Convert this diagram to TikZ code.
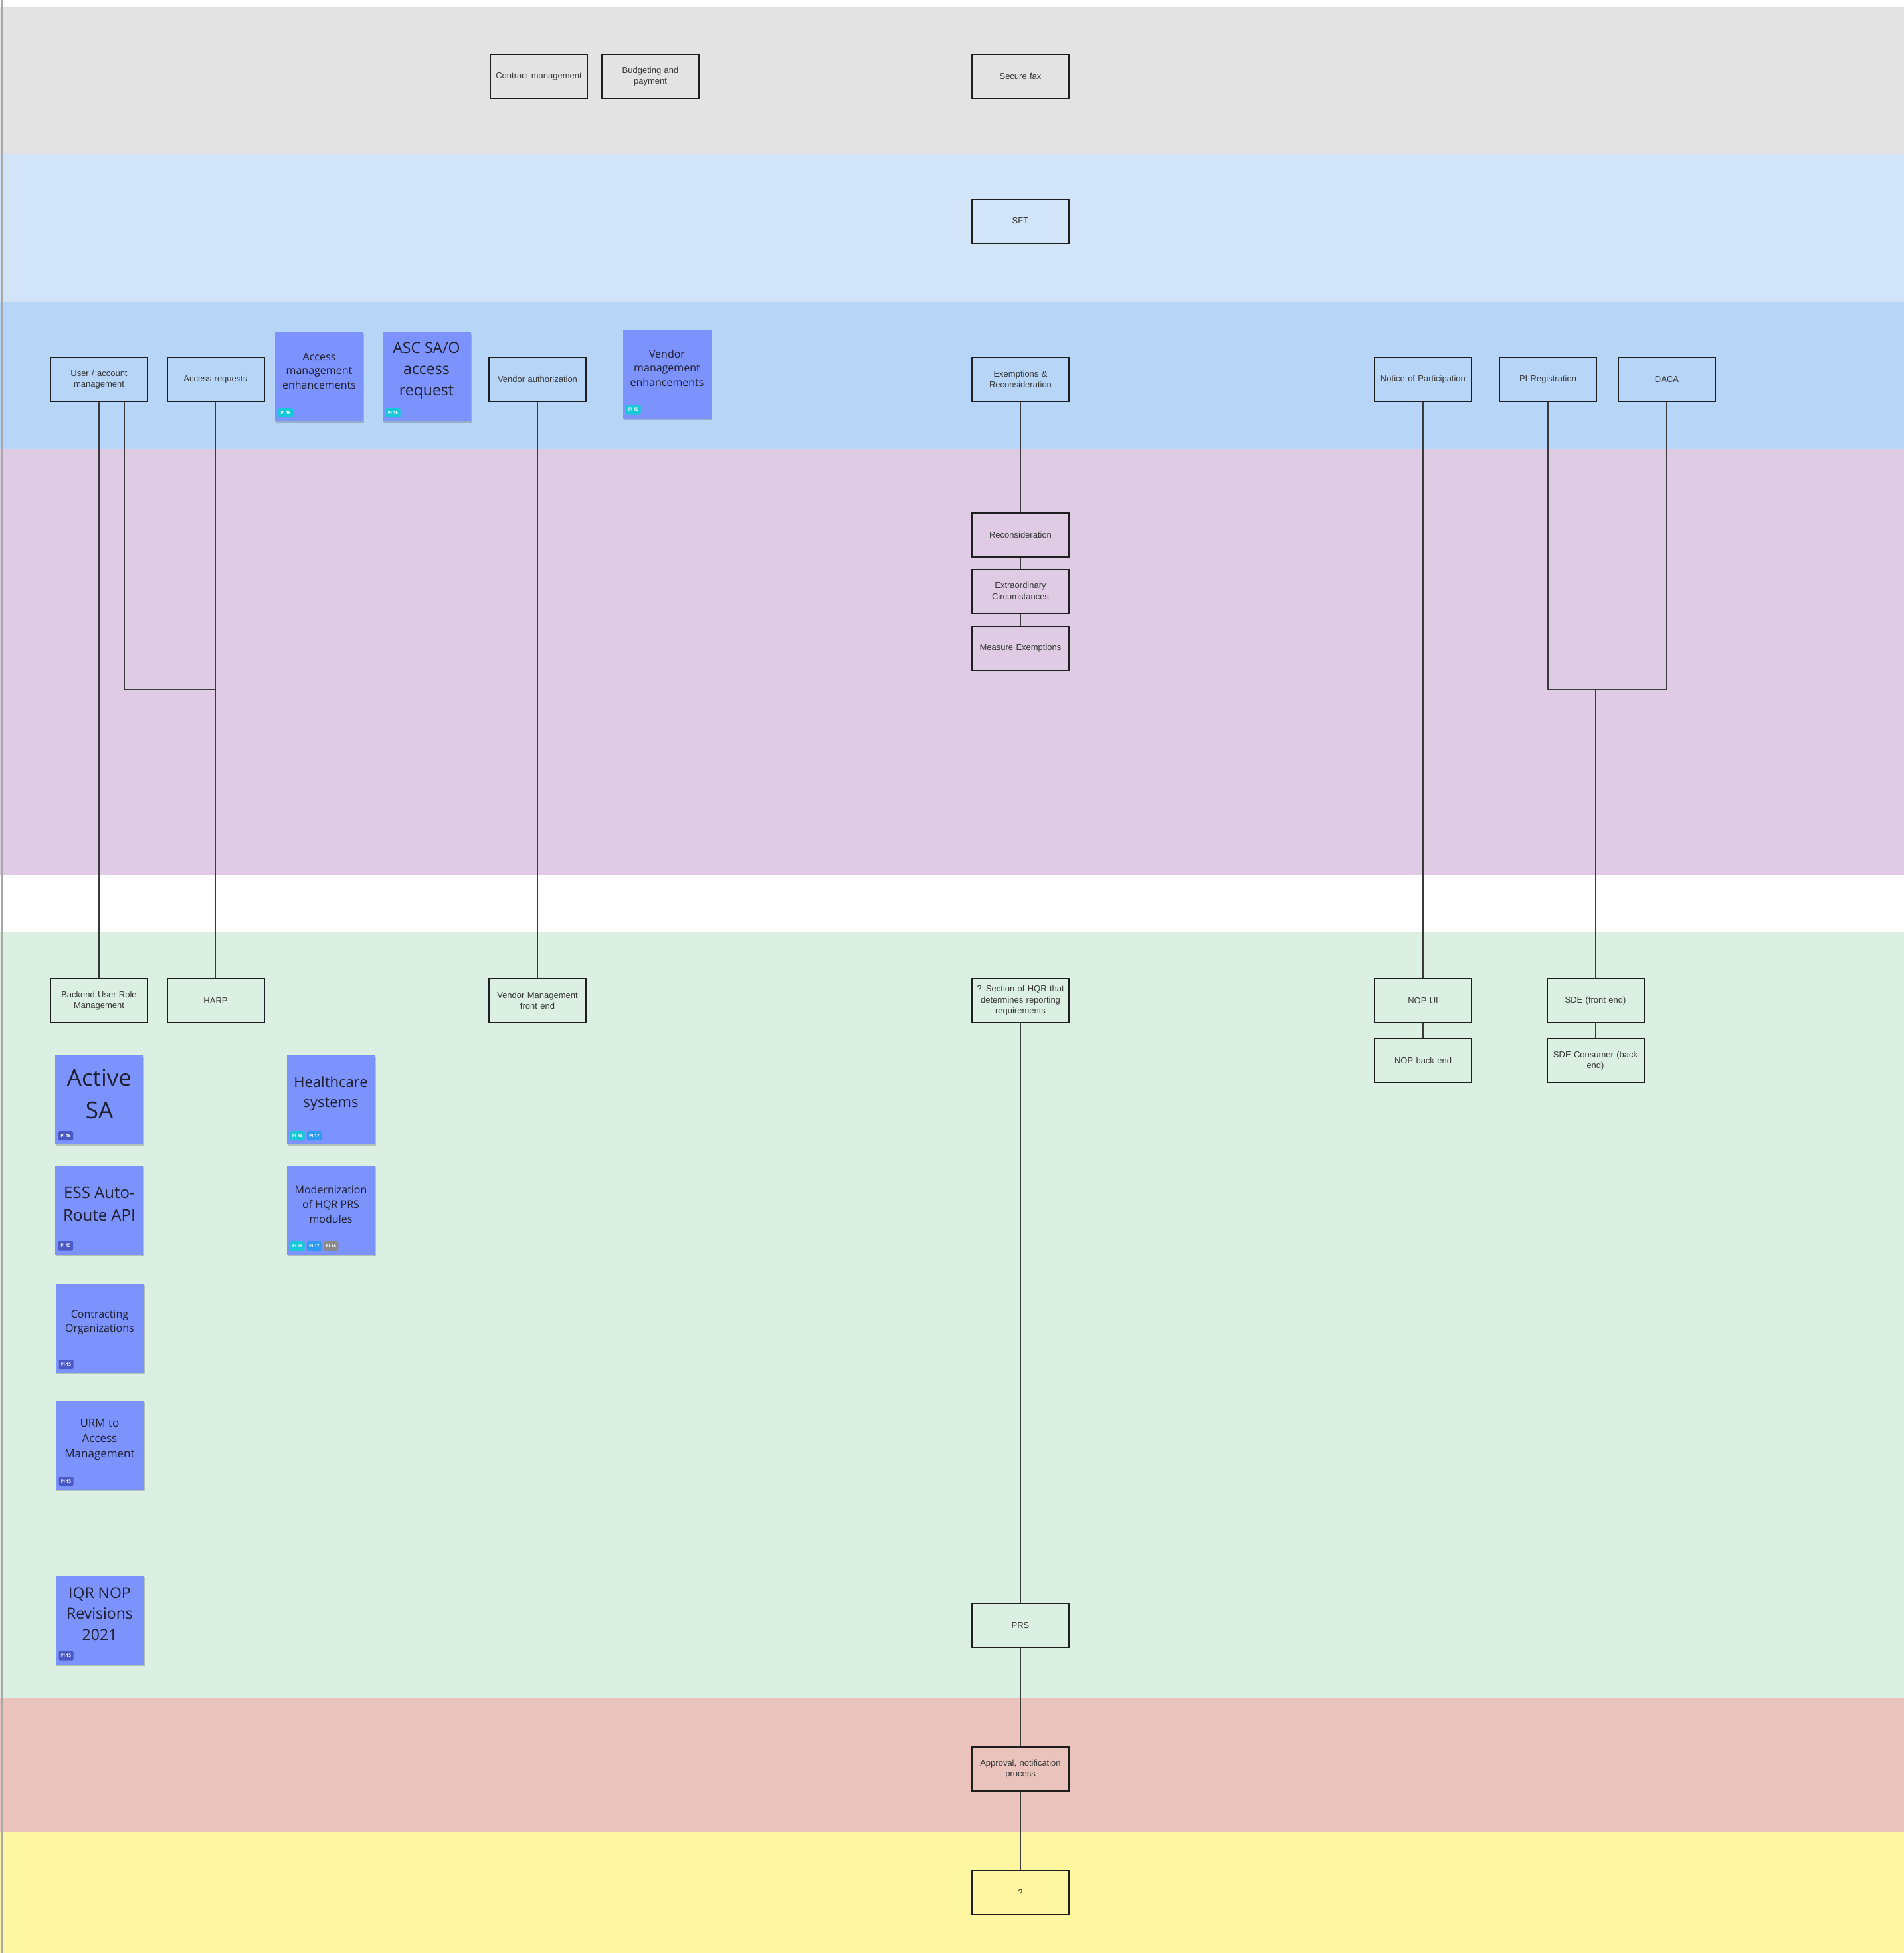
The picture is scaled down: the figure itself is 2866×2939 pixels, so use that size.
\documentclass[tikz,border=0pt]{standalone}
\usepackage{fontspec}
\setmainfont{Liberation Sans}
\newfontfamily\stickyfont{Open Sans}
\usetikzlibrary{shadows}
\definecolor{bandgray}{HTML}{E3E3E3}
\definecolor{bandlblue}{HTML}{D2E4F8}
\definecolor{bandblue}{HTML}{B7D5F6}
\definecolor{bandpurple}{HTML}{DFCBE4}
\definecolor{bandgreen}{HTML}{DBEFE3}
\definecolor{bandred}{HTML}{EAC3BD}
\definecolor{bandyellow}{HTML}{FEF6A1}
\definecolor{boxline}{HTML}{1E1E1E}
\definecolor{boxtext}{HTML}{383838}
\definecolor{linecol}{HTML}{3A3A3A}
\definecolor{stickyblue}{HTML}{7C93FE}
\definecolor{stickytext}{HTML}{1F2030}
\definecolor{piA}{HTML}{4A58C6}
\definecolor{piB}{HTML}{17C9D6}
\definecolor{piC}{HTML}{2F9BF0}
\definecolor{piD}{HTML}{8A8A8A}
\definecolor{edgegray}{HTML}{A8A8A8}
\begin{document}
\begin{tikzpicture}[x=1pt,y=-1pt,
  box/.style={draw=boxline, line width=2pt, minimum width=146pt, minimum height=66pt,
    inner sep=2pt, text width=138pt, align=center, text=boxtext,
    font=\fontsize{13}{16.5}\selectfont},
  link/.style={draw=linecol, line width=1.6pt},
  sticky/.style={fill=stickyblue, minimum width=133pt, minimum height=134pt, inner sep=0pt,
    drop shadow={shadow xshift=1pt, shadow yshift=-2pt, opacity=0.18, fill=black}},
  stext/.style={align=center, text=stickytext, inner sep=0pt},
  tag/.style={minimum width=22pt, minimum height=14pt, inner sep=0pt, rounded corners=1.5pt,
    text=white, font=\stickyfont\fontsize{6.5}{7}\selectfont\bfseries}
]
\useasboundingbox (0,0) rectangle (2866,2939);
% background bands
\fill[white] (0,0) rectangle (2866,2939);
\fill[bandgray] (0,11) rectangle (2866,232);
\fill[bandlblue] (0,232) rectangle (2866,454);
\fill[bandblue] (0,454) rectangle (2866,675);
\fill[bandpurple] (0,675) rectangle (2866,1317);
\fill[bandgreen] (0,1403) rectangle (2866,2556);
\fill[bandred] (0,2556) rectangle (2866,2757);
\fill[bandyellow] (0,2757) rectangle (2866,2939);
\draw[edgegray, line width=1.5pt] (3,0) -- (3,2939);

% boxes
\node[box] (contract) at (811,115) {Contract management};
\node[box] (budget) at (979,115) {Budgeting and\\payment};
\node[box] (securefax) at (1536,115) {Secure fax};
\node[box] (sft) at (1536,332.5) {SFT};
\node[box] (user) at (149,571) {User / account\\management};
\node[box] (access) at (324.5,571) {Access requests};
\node[box] (vendauth) at (809,571) {Vendor authorization};
\node[box] (exempt) at (1536,571) {Exemptions \&\\Reconsideration};
\node[box] (nop) at (2142,571) {Notice of Participation};
\node[box] (pireg) at (2330,571) {PI Registration};
\node[box] (daca) at (2509,571) {DACA};
\node[box] (recon) at (1536,805) {Reconsideration};
\node[box] (extra) at (1536,889.5) {Extraordinary\\Circumstances};
\node[box] (measure) at (1536,975.5) {Measure Exemptions};
\node[box] (backend) at (149,1506) {Backend User Role\\Management};
\node[box] (harp) at (324.5,1506) {HARP};
\node[box] (vendmgmt) at (809,1506) {Vendor Management\\front end};
\node[box] (section) at (1536,1506) {? Section of HQR that\\determines reporting\\requirements};
\node[box] (nopui) at (2142,1506) {NOP UI};
\node[box] (sde) at (2401.5,1506) {SDE (front end)};
\node[box] (nopback) at (2142,1596) {NOP back end};
\node[box] (sdecons) at (2401.5,1596) {SDE Consumer (back\\end)};
\node[box] (prs) at (1536,2446) {PRS};
\node[box] (approval) at (1536,2662) {Approval, notification\\process};
\node[box] (q) at (1536,2848) {?};

% connectors
\coordinate (j1) at (324.5,1038);
\coordinate (j2) at (2401.5,1038);
\draw[link] (user.south) -- (backend.north);
\draw[link] ([xshift=38pt]user.south) |- (j1);
\draw[link] (access.south) -- (harp.north);
\draw[link] (vendauth.south) -- (vendmgmt.north);
\draw[link] (exempt.south) -- (recon.north);
\draw[link] (recon.south) -- (extra.north);
\draw[link] (extra.south) -- (measure.north);
\draw[link] (nop.south) -- (nopui.north);
\draw[link] (nopui.south) -- (nopback.north);
\draw[link] (pireg.south) |- (j2) -| (daca.south);
\draw[link] (j2) -- (sde.north);
\draw[link] (sde.south) -- (sdecons.north);
\draw[link] (section.south) -- (prs.north);
\draw[link] (prs.south) -- (approval.north);
\draw[link] (approval.south) -- (q.north);

% sticky notes
\node[sticky] (s1) at (480.5,567) {};
\node[stext, font=\stickyfont\fontsize{16}{21.5}\selectfont] (s1t) at ([yshift=9pt]s1.center) {Access\\management\\enhancements};
\node[tag, fill=piB, anchor=south west] (s1a) at ([xshift=5pt,yshift=6pt]s1.south west) {PI 16};

\node[sticky] (s2) at (642,567) {};
\node[stext, font=\stickyfont\fontsize{23}{32}\selectfont] (s2t) at ([yshift=9pt]s2.center) {ASC SA/O\\access\\request};
\node[tag, fill=piB, anchor=south west] (s2a) at ([xshift=5pt,yshift=6pt]s2.south west) {PI 16};

\node[sticky] (s3) at (1004,562.5) {};
\node[stext, font=\stickyfont\fontsize{16}{21.5}\selectfont] (s3t) at ([yshift=9pt]s3.center) {Vendor\\management\\enhancements};
\node[tag, fill=piB, anchor=south west] (s3a) at ([xshift=5pt,yshift=6pt]s3.south west) {PI 16};

\node[sticky] (s4) at (149.5,1655) {};
\node[stext, font=\stickyfont\fontsize{35}{49}\selectfont] (s4t) at ([yshift=9pt]s4.center) {Active\\SA};
\node[tag, fill=piA, anchor=south west] (s4a) at ([xshift=5pt,yshift=6pt]s4.south west) {PI 15};

\node[sticky] (s5) at (498,1655) {};
\node[stext, font=\stickyfont\fontsize{22}{30}\selectfont] (s5t) at ([yshift=9pt]s5.center) {Healthcare\\systems};
\node[tag, fill=piB, anchor=south west] (s5a) at ([xshift=5pt,yshift=6pt]s5.south west) {PI 16};
\node[tag, fill=piC, anchor=west] (s5b) at ([xshift=3pt]s5a.east) {PI 17};

\node[sticky] (s6) at (149.5,1820.5) {};
\node[stext, font=\stickyfont\fontsize{24}{34}\selectfont] (s6t) at ([yshift=9pt]s6.center) {ESS Auto-\\Route API};
\node[tag, fill=piA, anchor=south west] (s6a) at ([xshift=5pt,yshift=6pt]s6.south west) {PI 15};

\node[sticky] (s7) at (498,1821) {};
\node[stext, font=\stickyfont\fontsize{16}{22}\selectfont] (s7t) at ([yshift=9pt]s7.center) {Modernization\\of HQR PRS\\modules};
\node[tag, fill=piB, anchor=south west] (s7a) at ([xshift=5pt,yshift=6pt]s7.south west) {PI 16};
\node[tag, fill=piC, anchor=west] (s7b) at ([xshift=3pt]s7a.east) {PI 17};
\node[tag, fill=piD, anchor=west] (s7c) at ([xshift=3pt]s7b.east) {PI 18};

\node[sticky] (s8) at (150,1999) {};
\node[stext, font=\stickyfont\fontsize{16}{21}\selectfont] (s8t) at ([yshift=9pt]s8.center) {Contracting\\Organizations};
\node[tag, fill=piA, anchor=south west] (s8a) at ([xshift=5pt,yshift=6pt]s8.south west) {PI 15};

\node[sticky] (s9) at (150,2175) {};
\node[stext, font=\stickyfont\fontsize{17}{23}\selectfont] (s9t) at ([yshift=9pt]s9.center) {URM to\\Access\\Management};
\node[tag, fill=piA, anchor=south west] (s9a) at ([xshift=5pt,yshift=6pt]s9.south west) {PI 15};

\node[sticky] (s10) at (150,2437.5) {};
\node[stext, font=\stickyfont\fontsize{23}{31.5}\selectfont] (s10t) at ([yshift=9pt]s10.center) {IQR NOP\\Revisions\\2021};
\node[tag, fill=piA, anchor=south west] (s10a) at ([xshift=5pt,yshift=6pt]s10.south west) {PI 15};
\end{tikzpicture}
\end{document}
